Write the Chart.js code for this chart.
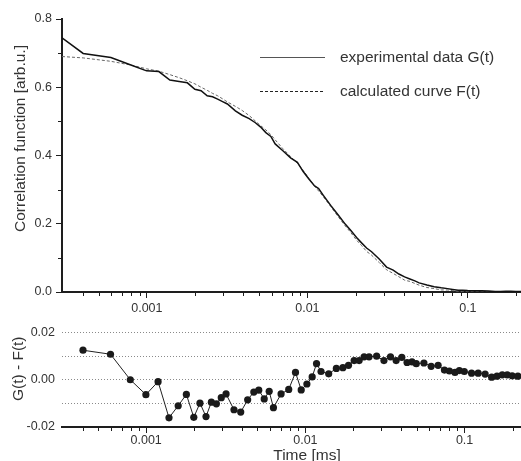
<!DOCTYPE html>
<html>
<head>
<meta charset="utf-8">
<script src="https://cdn.jsdelivr.net/npm/chart.js@4.4.1/dist/chart.umd.min.js"></script>
<style>
html, body { margin: 0; padding: 0; background: #fff; overflow: hidden; width: 521px; height: 461px; }
#wrap { position: relative; width: 556px; height: 461px; }
#topChart { position: absolute; left: 0; top: 0; }
#bottomChart { position: absolute; left: 0; top: 318px; }
</style>
</head>
<body>
<div id="wrap">
    <canvas id="topChart" width="556" height="318"></canvas>
    <canvas id="bottomChart" width="556" height="143"></canvas>
</div>
<script>

// lag times in ms
const timeMs = [
    0.000296, 0.000401, 0.000597, 0.000795, 0.000996, 0.001188, 0.001391, 0.001589, 0.001788, 0.001991,
    0.002177, 0.002376, 0.002567, 0.002761, 0.002963, 0.003175, 0.003560, 0.003925, 0.004340, 0.004743,
    0.005096, 0.005513, 0.005923, 0.006300, 0.007036, 0.007858, 0.008666, 0.009415, 0.01022, 0.01103,
    0.01175, 0.01254, 0.01401, 0.01565, 0.01720, 0.01866, 0.02025, 0.02176, 0.02338, 0.02512,
    0.02802, 0.03115, 0.03424, 0.03716, 0.04033, 0.04351, 0.04674, 0.04971, 0.05553, 0.06166,
    0.06818, 0.07471, 0.08030, 0.08702, 0.09268, 0.09957, 0.1106, 0.1217, 0.1346, 0.1479,
    0.1598, 0.1725, 0.1853, 0.1991, 0.2161
];

// experimental data G(t)
const expData = [
    0.745, 0.699, 0.687, 0.665, 0.648, 0.646, 0.621, 0.617, 0.613, 0.594,
    0.590, 0.575, 0.572, 0.565, 0.558, 0.551, 0.531, 0.518, 0.508, 0.496,
    0.484, 0.467, 0.456, 0.434, 0.414, 0.393, 0.380, 0.353, 0.331, 0.312,
    0.303, 0.284, 0.253, 0.224, 0.199, 0.180, 0.160, 0.144, 0.129, 0.118,
    0.0965, 0.073, 0.064, 0.0527, 0.0442, 0.0383, 0.0326, 0.0268, 0.0203, 0.0157,
    0.0122, 0.0099, 0.0076, 0.0051, 0.0053, 0.0044, 0.0038, 0.0034, 0.0026, 0.0014,
    0.0017, 0.0022, 0.0022, 0.0017, 0.0015
];

// calculated curve F(t)
const calcCurve = [
    0.690, 0.686, 0.676, 0.665, 0.654, 0.647, 0.637, 0.628, 0.619, 0.610,
    0.600, 0.591, 0.582, 0.575, 0.566, 0.557, 0.544, 0.532, 0.517, 0.501,
    0.488, 0.475, 0.461, 0.446, 0.420, 0.397, 0.377, 0.357, 0.333, 0.311,
    0.296, 0.280, 0.250, 0.219, 0.194, 0.174, 0.152, 0.136, 0.119, 0.108,
    0.0865, 0.065, 0.0545, 0.0446, 0.0347, 0.031, 0.025, 0.020, 0.0132, 0.010,
    0.0061, 0.0058, 0.0039, 0.002, 0.0014, 0.0009, 0.001, 0.0006, 0.0002, 0.0003,
    0.0002, 0.0001, 0.0001, 0.0, 0.0
];

// residuals G(t) - F(t), first lag not plotted
const residual = [
    null, 0.0125, 0.0108, 0.0000, -0.0063, -0.0008, -0.0161, -0.0110, -0.0062, -0.0159,
    -0.0099, -0.0156, -0.0095, -0.0102, -0.0076, -0.0060, -0.0127, -0.0137, -0.0085, -0.0052,
    -0.0044, -0.0081, -0.0049, -0.0118, -0.0060, -0.0041, 0.0031, -0.0043, -0.0018, 0.0012,
    0.0068, 0.0035, 0.0025, 0.0048, 0.0051, 0.0061, 0.0081, 0.0081, 0.0097, 0.0097,
    0.0100, 0.0081, 0.0097, 0.0081, 0.0095, 0.0073, 0.0076, 0.0068, 0.0071, 0.0057,
    0.0061, 0.0041, 0.0037, 0.0031, 0.0039, 0.0035, 0.0028, 0.0028, 0.0024, 0.0011,
    0.0015, 0.0021, 0.0021, 0.0017, 0.0015
];

const xTickValues = [
    0.0004, 0.0005, 0.0006, 0.0007, 0.0008, 0.0009,
    0.001, 0.002, 0.003, 0.004, 0.005, 0.006, 0.007, 0.008, 0.009,
    0.01, 0.02, 0.03, 0.04, 0.05, 0.06, 0.07, 0.08, 0.09,
    0.1, 0.2, 0.3
];
const xTickLabels = [
    "", "", "", "", "", "",
    "0.001", "", "", "", "", "", "", "", "",
    "0.01", "", "", "", "", "", "", "", "",
    "0.1", "", ""
];

const topYTicks = [0, 0.1, 0.2, 0.3, 0.4, 0.5, 0.6, 0.7, 0.8];
const topYLabels = ["0.0", "", "0.2", "", "0.4", "", "0.6", "", "0.8"];

const resYTicks = [-0.02, -0.01, 0, 0.01, 0.02];
const resYLabels = ["-0.02", "", "0.00", "", "0.02"];

const X_MIN = 0.000296;
const X_MAX = 0.354;

Chart.defaults.font.family = '"Liberation Sans", Arial, sans-serif';
Chart.defaults.font.size = 12.5;
Chart.defaults.color = "#333";

const AXIS_COLOR = "#1e1e1e";

// short ticks for the unlabelled positions
const minorTicks = {
    id: "minorTicks",
    afterDraw(chart, args, opts) {
        const ctx = chart.ctx;
        ctx.save();
        ctx.strokeStyle = AXIS_COLOR;
        ctx.lineWidth = 1;
        opts.axes.forEach(id => {
            const scale = chart.scales[id];
            scale.ticks.forEach(t => {
                if (t.label !== "") return;
                const p = Math.round(scale.getPixelForValue(t.value)) + 0.5;
                ctx.beginPath();
                if (scale.isHorizontal()) {
                    ctx.moveTo(p, scale.top);
                    ctx.lineTo(p, scale.top + opts.length);
                } else {
                    ctx.moveTo(scale.right, p);
                    ctx.lineTo(scale.right - opts.length, p);
                }
                ctx.stroke();
            });
        });
        ctx.restore();
    }
};

// rotated side title, a bit above the middle of the plot like the original
const sideTitle = {
    id: "sideTitle",
    afterDraw(chart, args, opts) {
        const { ctx, chartArea } = chart;
        ctx.save();
        ctx.translate(opts.x, (chartArea.top + chartArea.bottom) / 2 + opts.shift);
        ctx.rotate(-Math.PI / 2);
        ctx.font = '15.5px "Liberation Sans", Arial, sans-serif';
        ctx.fillStyle = "#333";
        ctx.textAlign = "center";
        ctx.textBaseline = "middle";
        ctx.fillText(opts.text, 0, 0);
        ctx.restore();
    }
};

// legend drawn inside the plot area
const insideLegend = {
    id: "insideLegend",
    afterDraw(chart, args, opts) {
        const ctx = chart.ctx;
        ctx.save();
        ctx.font = '15.5px "Liberation Sans", Arial, sans-serif';
        ctx.textBaseline = "middle";
        chart.data.datasets.forEach((ds, i) => {
            const y = opts.top + i * opts.gap + 0.5;
            ctx.strokeStyle = opts.lineColors[i];
            ctx.lineWidth = 1;
            ctx.setLineDash(ds.borderDash || []);
            ctx.beginPath();
            ctx.moveTo(opts.left, y);
            ctx.lineTo(opts.left + opts.sample, y);
            ctx.stroke();
            ctx.setLineDash([]);
            ctx.fillStyle = "#333";
            ctx.fillText(ds.label, opts.left + opts.sample + 15, y);
        });
        ctx.restore();
    }
};

function fixedTicks(values) {
    return scale => {
        scale.ticks = values.map(v => ({ value: v }));
    };
}

function logXAxis(height, withTitle, labelPad) {
    return {
        type: "logarithmic",
        min: X_MIN,
        max: X_MAX,
        afterBuildTicks: fixedTicks(xTickValues),
        afterFit: scale => { scale.height = height; },
        border: { display: true, color: AXIS_COLOR, width: 2 },
        grid: {
            display: true,
            drawOnChartArea: false,
            drawTicks: true,
            tickLength: 6,
            tickWidth: 1,
            tickColor: c => (c.tick && c.tick.label !== "") ? AXIS_COLOR : "rgba(0,0,0,0)"
        },
        ticks: {
            autoSkip: false,
            maxRotation: 0,
            padding: labelPad,
            callback: (v, i) => xTickLabels[i]
        },
        title: {
            display: withTitle,
            text: "Time [ms]",
            font: { size: 15.5, lineHeight: 1 },
            padding: { top: 0, bottom: -2 }
        }
    };
}

new Chart(document.getElementById("topChart"), {
    type: "line",
    data: {
        datasets: [{
            label: "experimental data G(t)",
            data: timeMs.map((t, i) => ({ x: t, y: expData[i] })),
            borderColor: "#111",
            borderWidth: 1.5,
            pointRadius: 0,
            tension: 0
        }, {
            label: "calculated curve F(t)",
            data: timeMs.map((t, i) => ({ x: t, y: calcCurve[i] })),
            borderColor: "#666",
            borderWidth: 1,
            borderDash: [3, 2],
            pointRadius: 0,
            tension: 0
        }]
    },
    options: {
        responsive: false,
        animation: false,
        events: [],
        layout: { padding: { top: 19, left: 0, right: 0, bottom: 0 } },
        plugins: {
            legend: { display: false },
            tooltip: { enabled: false },
            minorTicks: { axes: ["x", "y"], length: 4 },
            sideTitle: { text: "Correlation function [arb.u.]", x: 21, shift: -17 },
            insideLegend: { left: 260, top: 57, gap: 34, sample: 65, lineColors: ["#555", "#222"] }
        },
        scales: {
            x: logXAxis(26, false, 3),
            y: {
                type: "linear",
                min: 0,
                max: 0.8,
                afterBuildTicks: fixedTicks(topYTicks),
                afterFit: scale => { scale.width = 62; },
                border: { display: true, color: AXIS_COLOR, width: 2 },
                grid: {
                    display: true,
                    drawOnChartArea: false,
                    tickLength: 6,
                    tickColor: c => (c.tick && c.tick.label !== "") ? AXIS_COLOR : "rgba(0,0,0,0)"
                },
                ticks: { padding: 4, callback: (v, i) => topYLabels[i] }
            }
        }
    },
    plugins: [minorTicks, sideTitle, insideLegend]
});

new Chart(document.getElementById("bottomChart"), {
    type: "line",
    data: {
        datasets: [{
            label: "G(t) - F(t)",
            data: timeMs.map((t, i) => ({ x: t, y: residual[i] })),
            borderColor: "#222",
            borderWidth: 1,
            pointRadius: 3.6,
            pointBackgroundColor: "#1a1a1a",
            pointBorderWidth: 0,
            tension: 0
        }]
    },
    options: {
        responsive: false,
        animation: false,
        events: [],
        layout: { padding: { top: 9, left: 0, right: 0, bottom: 0 } },
        plugins: {
            legend: { display: false },
            tooltip: { enabled: false },
            minorTicks: { axes: ["x"], length: 4 },
            sideTitle: { text: "G(t) - F(t)", x: 19, shift: -11 }
        },
        scales: {
            x: logXAxis(34, true, 0),
            y: {
                type: "linear",
                min: -0.02,
                max: 0.02,
                afterBuildTicks: fixedTicks(resYTicks),
                afterFit: scale => { scale.width = 62; },
                border: { display: false, dash: [1, 2] },
                grid: {
                    display: true,
                    drawOnChartArea: true,
                    drawTicks: false,
                    color: c => (c.tick && c.tick.value <= -0.02) ? "rgba(0,0,0,0)" : "#8a8a8a",
                    lineWidth: 1
                },
                ticks: { padding: 7, callback: (v, i) => resYLabels[i] }
            }
        }
    },
    plugins: [minorTicks, sideTitle]
});

</script>
</body>
</html>
